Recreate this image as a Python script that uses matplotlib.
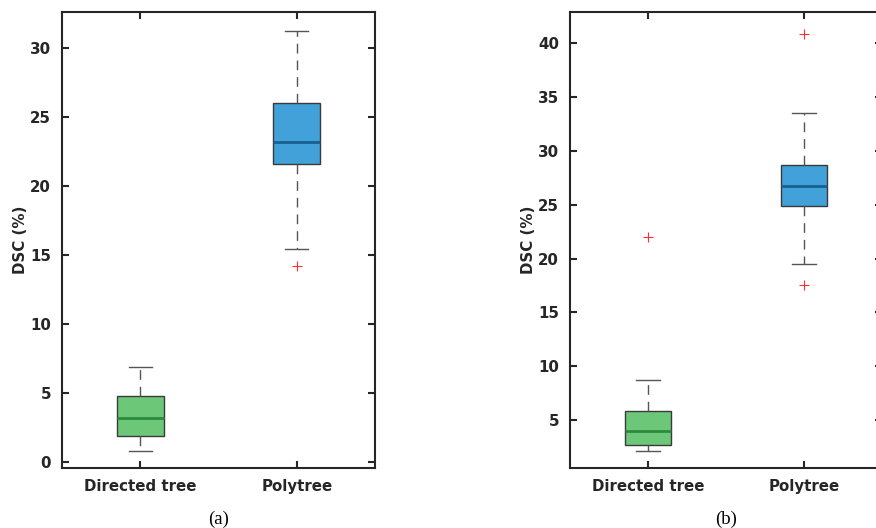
import matplotlib.pyplot as plt

# values (DSC in %)
labels = ['Directed tree', 'Polytree']

a_whislo = [0.8, 15.4]
a_q1 = [1.9, 21.6]
a_med = [3.2, 23.2]
a_q3 = [4.8, 26.0]
a_whishi = [6.9, 31.2]
a_fliers = [[], [14.2]]

b_whislo = [2.1, 19.5]
b_q1 = [2.7, 24.9]
b_med = [4.0, 26.7]
b_q3 = [5.8, 28.7]
b_whishi = [8.7, 33.5]
b_fliers = [[22.0], [17.5, 40.9]]

a_ticks = [0, 5, 10, 15, 20, 25, 30]
b_ticks = [5, 10, 15, 20, 25, 30, 35, 40]

fills = ['#6cc878', '#42a1d9']
medians = ['#2b8a3e', '#17608f']
dark = '#262626'


def draw(ax, whislo, q1, med, q3, whishi, fliers, ylim, yticks, caption):
    stats = []
    for i in range(len(labels)):
        stats.append({'whislo': whislo[i], 'q1': q1[i], 'med': med[i], 'q3': q3[i],
                      'whishi': whishi[i], 'fliers': fliers[i], 'label': labels[i]})
    bp = ax.bxp(stats, positions=[1, 2], widths=0.3, patch_artist=True,
                boxprops=dict(edgecolor='#3a3a3a', linewidth=1.0),
                whiskerprops=dict(color='#555555', linestyle=(0, (7, 5)), linewidth=1.0),
                capprops=dict(color='#555555', linewidth=1.0),
                flierprops=dict(marker='+', markeredgecolor='#ff3030', markersize=7,
                                markeredgewidth=0.8, linestyle='none'),
                medianprops=dict(linewidth=2.0))
    for i in range(len(labels)):
        bp['boxes'][i].set_facecolor(fills[i])
        bp['medians'][i].set_color(medians[i])
    for c in bp['caps']:
        x = c.get_xdata()
        mid = (x[0] + x[1]) / 2
        c.set_xdata([mid - 0.075, mid + 0.075])

    ax.set_xlim(0.5, 2.5)
    ax.set_ylim(*ylim)
    ax.set_yticks(yticks)
    ax.set_xticks([1, 2])
    ax.set_xticklabels(labels, fontweight='bold', fontsize=10.8, color=dark)
    for t in ax.get_yticklabels():
        t.set_fontweight('bold')
        t.set_fontsize(10.8)
        t.set_color(dark)
    ax.tick_params(direction='in', length=5, width=1.5, color=dark,
                   top=True, right=True, pad=8)
    for s in ax.spines.values():
        s.set_linewidth(1.5)
        s.set_color(dark)
    ax.set_ylabel('DSC (%)', fontweight='bold', fontsize=10.8, color=dark, labelpad=1)
    ax.text(0.5, -0.112, caption, transform=ax.transAxes, ha='center', va='center',
            fontsize=13.5, family='Liberation Serif')


fig = plt.figure(figsize=(8.76, 5.28), dpi=100)
ax1 = fig.add_axes([62 / 876, 60 / 528, 313 / 876, 456 / 528])
ax2 = fig.add_axes([570 / 876, 60 / 528, 312 / 876, 456 / 528])

draw(ax1, a_whislo, a_q1, a_med, a_q3, a_whishi, a_fliers, (-0.45, 32.6), a_ticks, '(a)')
draw(ax2, b_whislo, b_q1, b_med, b_q3, b_whishi, b_fliers, (0.55, 42.9), b_ticks, '(b)')

fig.savefig('out.png', dpi=100)
